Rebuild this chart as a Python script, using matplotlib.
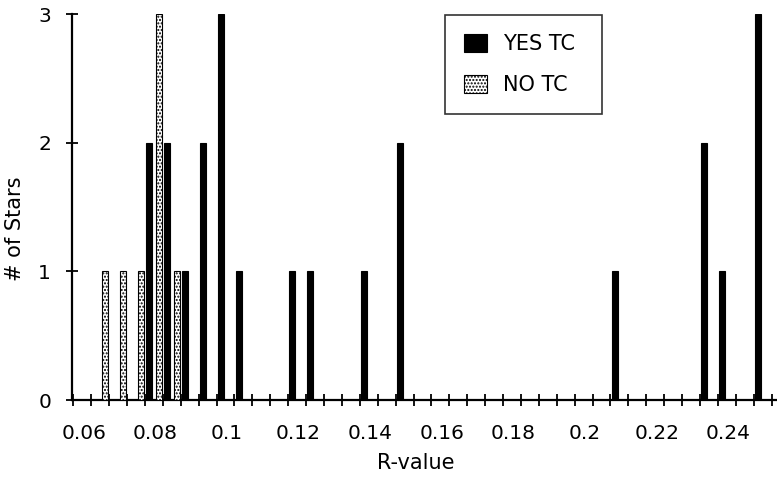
import matplotlib
matplotlib.use('Agg')
import matplotlib.pyplot as plt
import matplotlib.transforms as mtransforms
import numpy as np

# star counts per R-value bin (bins are 0.005 wide)
yes_r = [0.075, 0.08, 0.085, 0.09, 0.095, 0.1, 0.115, 0.12, 0.135, 0.145, 0.205, 0.23, 0.235, 0.245]
yes_n = [2, 2, 1, 2, 3, 1, 1, 1, 1, 2, 1, 2, 1, 3]

no_r = [0.065, 0.07, 0.075, 0.08, 0.085]
no_n = [1, 1, 1, 3, 1]

xtick_vals = [0.06, 0.08, 0.10, 0.12, 0.14, 0.16, 0.18, 0.20, 0.22, 0.24]
xtick_labels = ['0.06', '0.08', '0.1', '0.12', '0.14', '0.16', '0.18', '0.2', '0.22', '0.24']
ytick_vals = [0, 1, 2, 3]

plt.rcParams['font.family'] = ['DejaVu Sans']

fig = plt.figure(figsize=(7.77, 4.79), dpi=100)
ax = fig.add_axes([72/777, 79/479, 705/777, 386/479])

bw = 0.0017
off = 0.00115
ax.bar(np.array(yes_r) + off, yes_n, width=bw, color='black', edgecolor='black',
       linewidth=0.8, label='YES TC', zorder=3)
ax.bar(np.array(no_r) - off, no_n, width=bw, color='white', edgecolor='black',
       linewidth=0.8, hatch='.....', label='NO TC', zorder=3)

ax.set_xlim(0.05464, 0.2515)
ax.set_ylim(0, 3)

# ticks every 0.005, labels every 0.02
ax.set_xticks(np.arange(0.055, 0.2501, 0.005), minor=True)
ax.set_xticks(xtick_vals)
ax.set_xticklabels(xtick_labels)
ax.set_yticks(ytick_vals)
ax.tick_params(axis='both', which='both', direction='inout', length=8, width=1.3,
               color='black', labelsize=14.5)
ax.tick_params(axis='x', which='both', pad=13)
ax.tick_params(axis='y', pad=11)

# labels in the original sit a little left of their ticks
shift = mtransforms.ScaledTranslation(-7.5/100, 0, fig.dpi_scale_trans)
for lab in ax.get_xticklabels():
    lab.set_transform(lab.get_transform() + shift)

for s in ['top', 'right']:
    ax.spines[s].set_visible(False)
for s in ['left', 'bottom']:
    ax.spines[s].set_linewidth(1.6)
    ax.spines[s].set_color('black')

ax.set_xlabel('R-value', fontsize=15)
ax.xaxis.set_label_coords(0.488, -0.137)
ax.set_ylabel('# of Stars', fontsize=15)
ax.yaxis.set_label_coords(-0.067, 0.443)

leg = ax.legend(loc='upper left', bbox_to_anchor=(0.529, 0.718, 0.223, 0.279),
                mode='expand', frameon=True, fancybox=False, edgecolor='black',
                fontsize=15, handlelength=1.1, handleheight=0.95, handletextpad=0.8,
                labelspacing=1.0, borderpad=0.9, borderaxespad=0)
leg.get_frame().set_linewidth(1.2)

fig.savefig('out.png', dpi=100)
